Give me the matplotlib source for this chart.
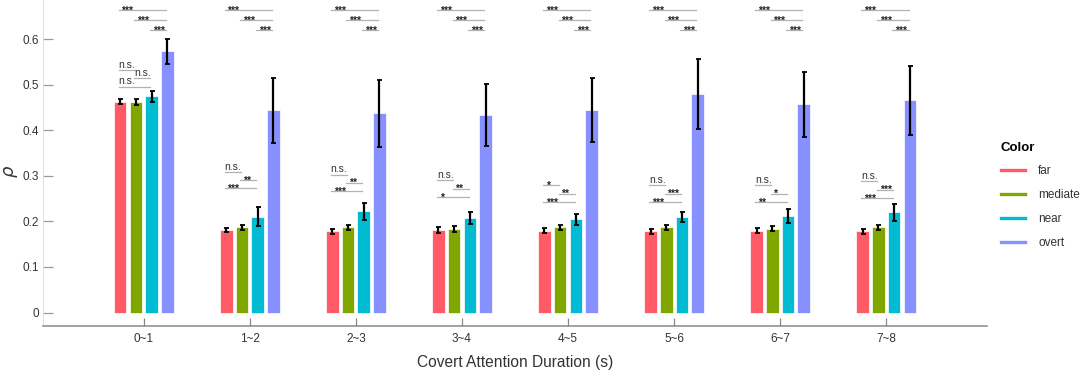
import matplotlib
matplotlib.use("Agg")
import matplotlib.pyplot as plt
import numpy as np
from matplotlib.lines import Line2D

# ---------------- data ----------------
groups = ['0~1', '1~2', '2~3', '3~4', '4~5', '5~6', '6~7', '7~8']
series = ['far', 'mediate', 'near', 'overt']
far = [0.463, 0.181, 0.178, 0.181, 0.180, 0.178, 0.180, 0.178]
mediate = [0.462, 0.187, 0.187, 0.183, 0.187, 0.187, 0.184, 0.187]
near = [0.475, 0.210, 0.222, 0.208, 0.205, 0.210, 0.212, 0.220]
overt = [0.573, 0.444, 0.437, 0.433, 0.445, 0.480, 0.457, 0.466]
far_err = [0.006, 0.005, 0.006, 0.006, 0.006, 0.005, 0.005, 0.005]
mediate_err = [0.006, 0.006, 0.006, 0.006, 0.005, 0.006, 0.006, 0.005]
near_err = [0.012, 0.021, 0.019, 0.013, 0.012, 0.011, 0.016, 0.018]
overt_err = [0.028, 0.071, 0.074, 0.068, 0.070, 0.077, 0.072, 0.076]

# significance labels (lower brackets)
sig_far_mediate = ['n.s.', 'n.s.', 'n.s.', 'n.s.', '*', 'n.s.', 'n.s.', 'n.s.']
sig_mediate_near = ['n.s.', '**', '**', '**', '**', '***', '*', '***']
sig_far_near = ['n.s.', '***', '***', '*', '***', '***', '**', '***']
lower_base = [0.496, 0.273, 0.267, 0.254, 0.243, 0.243, 0.243, 0.252]
# upper brackets (vs overt)
sig_far_overt = ['***'] * 8
sig_mediate_overt = ['***'] * 8
sig_near_overt = ['***'] * 8
upper_levels = [0.664, 0.642, 0.620]

colors = ['#FF5A66', '#80A600', '#00BBD2', '#8790FF']

plt.rcParams['font.family'] = ['Liberation Sans', 'DejaVu Sans']

fig = plt.figure(figsize=(10.84, 3.76), dpi=100)
ax = fig.add_axes([43 / 1084, 50 / 376, (987 - 43) / 1084, 326 / 376])

x = np.arange(len(groups))
spacing = 0.148
width = 0.118
vals = [far, mediate, near, overt]
errs = [far_err, mediate_err, near_err, overt_err]
for i, (v, e, c) in enumerate(zip(vals, errs, colors)):
    pos = x + (i - 1.5) * spacing
    ax.bar(pos, v, width=width, color=c, edgecolor='white', linewidth=0.5, zorder=2)
    ax.errorbar(pos, v, yerr=e, fmt='none', ecolor='black', elinewidth=1.6,
                capsize=1.8, capthick=1.3, zorder=3)

line_kw = dict(color='#b3b3b3', lw=0.9, zorder=1)


def bracket(xc, i0, i1, y, label):
    xa = xc + (i0 - 1.5) * spacing - 0.015
    xb = xc + (i1 - 1.5) * spacing - 0.012
    ax.plot([xa, xb], [y, y], **line_kw)
    if label == 'n.s.':
        ax.annotate(label, xy=(xa, y), xytext=(0, 1.6), textcoords='offset points',
                    ha='left', va='baseline', fontsize=7.5, color='#333333')
    else:
        ax.annotate(label, xy=(xa, y), xytext=(2.0, -2.6), textcoords='offset points',
                    ha='left', va='baseline', fontsize=7.5, color='#222222',
                    fontweight='bold')


step = 0.018
for g in range(len(groups)):
    xc = x[g]
    b = lower_base[g]
    bracket(xc, 0, 1, b + 2 * step, sig_far_mediate[g])
    bracket(xc, 1, 2, b + step, sig_mediate_near[g])
    bracket(xc, 0, 2, b, sig_far_near[g])
    bracket(xc, 0, 3, upper_levels[0], sig_far_overt[g])
    bracket(xc, 1, 3, upper_levels[1], sig_mediate_overt[g])
    bracket(xc, 2, 3, upper_levels[2], sig_near_overt[g])

ax.set_xlim(-0.95, len(groups) - 1 + 0.95)
ax.set_ylim(-0.0295, 0.686)
ax.set_xticks(x)
ax.set_xticklabels(groups)
ax.set_yticks([0, 0.1, 0.2, 0.3, 0.4, 0.5, 0.6])
ax.set_yticklabels(['0', '0.1', '0.2', '0.3', '0.4', '0.5', '0.6'])
ax.tick_params(axis='x', direction='in', length=6, width=0.9, color='#888888',
               labelsize=8.5, labelcolor='#333333', pad=5)
ax.tick_params(axis='y', direction='in', length=7.5, width=0.9, color='#999999',
               labelsize=8.5, labelcolor='#333333', pad=3)
for s in ['top', 'right']:
    ax.spines[s].set_visible(False)
ax.spines['bottom'].set_color('#888888')
ax.spines['bottom'].set_linewidth(1.1)
ax.spines['left'].set_color('#e0e0e0')
ax.spines['left'].set_linewidth(0.7)

fig.text(11 / 1084, 1 - 171 / 376, r'$\rho$', rotation=90, ha='center', va='center',
         fontsize=13, color='#333333')
fig.text(515 / 1084, 1 - 363 / 376, 'Covert Attention Duration (s)', ha='center',
         va='center', fontsize=11.2, color='#333333')

handles = [Line2D([0], [0], color=c, lw=2.4) for c in colors]
leg = fig.legend(handles, series, title='Color', loc='upper left',
                 bbox_to_anchor=(997 / 1084, 1 - 138 / 376), frameon=False,
                 fontsize=8.5, handlelength=2.1, handletextpad=1.1, labelspacing=1.0,
                 alignment='left', borderaxespad=0, borderpad=0.3)
leg.get_title().set_fontweight('bold')
leg.get_title().set_fontsize(9.5)
for t in leg.get_texts():
    t.set_color('#333333')

fig.savefig('out.png', dpi=100)
